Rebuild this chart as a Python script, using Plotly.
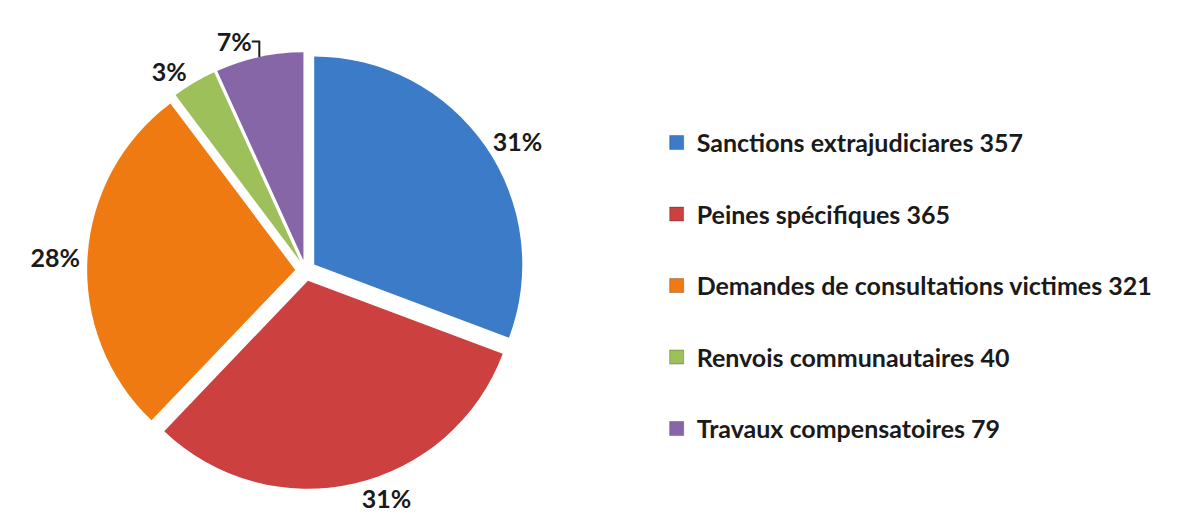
import plotly.graph_objects as go

categories = ["Sanctions extrajudiciares", "Peines spécifiques", "Demandes de consultations victimes",
              "Renvois communautaires", "Travaux compensatoires"]
values = [357, 365, 321, 40, 79]
colors = ["#3B7BC8", "#CC4040", "#F07A12", "#9DC05A", "#8766A8"]

fig = go.Figure()
fig.add_trace(go.Pie(
    labels=categories, values=values, sort=False, direction="clockwise", rotation=0,
    marker=dict(colors=colors, line=dict(color="white", width=0)),
    pull=[0.05] * len(values),
    texttemplate="<b>%{percent:.0%}</b>", textposition="outside",
    textfont=dict(family="Lato", size=25, color="#1a1a1a"),
    outsidetextfont=dict(family="Lato", size=25, color="#1a1a1a"),
    showlegend=False, domain=dict(x=[0.0, 0.49], y=[0, 1]),
    hoverinfo="label+value+percent",
))
for c, v, col in zip(categories, values, colors):
    fig.add_trace(go.Scatter(
        x=[None], y=[None], mode="markers", name=f"<b>{c} {v}</b>",
        legendgroup=c, marker=dict(symbol="square", size=14, color=col,
                                   line=dict(color="rgba(0,0,0,0.25)", width=1)),
    ))

fig.update_layout(
    width=1194, height=525, paper_bgcolor="white", plot_bgcolor="white",
    margin=dict(l=10, r=10, t=44, b=44, autoexpand=False),
    xaxis=dict(visible=False), yaxis=dict(visible=False),
    legend=dict(x=0.544, y=0.465, yanchor="middle", xanchor="left",
                font=dict(family="Lato", size=25, color="#1a1a1a"),
                tracegroupgap=36, itemwidth=30),
)
fig.write_html("out.html")
